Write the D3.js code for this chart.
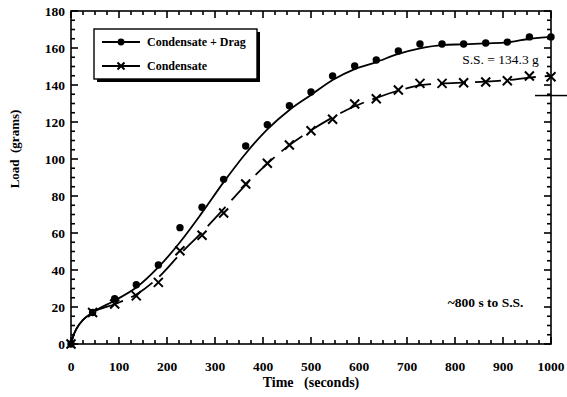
<!DOCTYPE html>
<html>
<head>
<meta charset="utf-8">
<script src="https://cdn.jsdelivr.net/npm/d3@7"></script>
<style>
  html, body { margin: 0; padding: 0; background: #fff; }
  svg { display: block; }
  text { font-family: "Liberation Serif", "Times New Roman", serif; fill: #000; }
</style>
</head>
<body>
<div id="chart"></div>
<script>
// Measured times (s)
const times = [0, 45, 91, 136, 182, 227, 273, 318, 364, 409, 455, 500, 545, 591, 636, 682, 727, 773, 818, 864, 909, 955, 1000];
// Measured loads (g)
const dragLoads = [0, 17, 24.5, 32, 42.7, 62.9, 73.9, 89, 107, 118.5, 128.8, 136.2, 144.9, 150.3, 153.5, 158.4, 162.2, 162.2, 162.2, 162.7, 163.2, 166, 166];
const condLoads = [0, 17, 21.6, 26, 33.3, 50.4, 58.8, 70.8, 86.5, 97.7, 107.6, 115.3, 121.5, 129.7, 132.6, 137.3, 140.9, 140.9, 141.2, 141.6, 142.3, 144.9, 144.5];

// Smooth fitted curves
const fitTimes = [0, 5, 12, 25, 45, 91, 136, 182, 227, 273, 318, 364, 409, 455, 500, 545, 591, 636, 682, 727, 773, 818, 864, 909, 955, 1000];
const dragFit = [0, 4.5, 8.5, 13, 17, 23.5, 30.5, 41.5, 55, 71, 87.5, 103, 116, 126.5, 134.6, 142.7, 148.6, 152.4, 156.8, 159.8, 161.6, 162, 162.5, 163, 165, 166];
const condFit = [0, 4.5, 8.5, 13, 17, 21.5, 26.8, 36, 48.5, 60.5, 73, 86, 97.5, 107.5, 115.5, 122.5, 128.5, 133, 137, 139.8, 140.8, 141.3, 141.8, 142.6, 144, 145];

const xTicks = [0, 100, 200, 300, 400, 500, 600, 700, 800, 900, 1000];
const yTicks = [0, 20, 40, 60, 80, 100, 120, 140, 160, 180];

const seriesNames = ["Condensate + Drag", "Condensate"];
const steadyState = 134.3;
const ssLabel = "S.S. = 134.3 g";
const timeLabel = "~800 s to S.S.";

const W = 567, H = 397;
const m = { left: 71, right: 16, top: 11, bottom: 53 };
const iw = W - m.left - m.right, ih = H - m.top - m.bottom;

const svg = d3.select("#chart").append("svg").attr("width", W).attr("height", H);
const g = svg.append("g").attr("transform", `translate(${m.left},${m.top})`);

const xs = d3.scaleLinear().domain([0, 1000]).range([0, iw]);
const ys = d3.scaleLinear().domain([0, 180]).range([ih, 0]);

// Frame
g.append("rect").attr("x", 0).attr("y", 0).attr("width", iw).attr("height", ih)
  .attr("fill", "none").attr("stroke", "#000").attr("stroke-width", 1.6);

// Inward-pointing ticks on all four sides (major at labels, minor between)
const xTickVals = d3.range(0, 1001, 25);
const yTickVals = d3.range(0, 181, 5);
const tickLayer = g.append("g").attr("stroke", "#000").attr("stroke-width", 1.6);
xTickVals.forEach(v => {
  const len = v % 100 === 0 ? 7 : 4;
  const px = xs(v);
  tickLayer.append("line").attr("x1", px).attr("x2", px).attr("y1", ih).attr("y2", ih - len);
  tickLayer.append("line").attr("x1", px).attr("x2", px).attr("y1", 0).attr("y2", len);
});
yTickVals.forEach(v => {
  const len = v % 20 === 0 ? 7 : 4;
  const py = ys(v);
  tickLayer.append("line").attr("x1", 0).attr("x2", len).attr("y1", py).attr("y2", py);
  tickLayer.append("line").attr("x1", iw).attr("x2", iw - len).attr("y1", py).attr("y2", py);
});

// Tick labels
g.append("g").selectAll("text").data(xTicks).join("text")
  .attr("x", d => xs(d)).attr("y", ih + 27)
  .attr("text-anchor", "middle").attr("font-size", 13.5).attr("font-weight", "bold")
  .text(d => d);
g.append("g").selectAll("text").data(yTicks).join("text")
  .attr("x", -6).attr("y", d => ys(d)).attr("dy", "0.35em")
  .attr("text-anchor", "end").attr("font-size", 13.5).attr("font-weight", "bold")
  .text(d => d);

// Axis titles
svg.append("text").attr("x", m.left + iw / 2).attr("y", 387)
  .attr("text-anchor", "middle").attr("font-size", 14).attr("font-weight", "bold")
  .attr("xml:space", "preserve").text("Time   (seconds)");
svg.append("text").attr("transform", "translate(19,149) rotate(-90)")
  .attr("text-anchor", "middle").attr("font-size", 13).attr("font-weight", "bold")
  .attr("xml:space", "preserve").text("Load  (grams)");

// Fitted curves
const line = d3.line().x(d => xs(d[0])).y(d => ys(d[1])).curve(d3.curveMonotoneX);
g.append("path").datum(d3.zip(fitTimes, dragFit)).attr("d", line)
  .attr("fill", "none").attr("stroke", "#000").attr("stroke-width", 1.8);
g.append("path").datum(d3.zip(fitTimes, condFit)).attr("d", line)
  .attr("fill", "none").attr("stroke", "#000").attr("stroke-width", 1.8)
  .attr("stroke-dasharray", "46,0,0,0,26,9,26,9,26,9,26,9,26,9,26,9,26,9,26,9,26,9,26,9,26,9,26,9,26,9,26,9,26,9,26,9");

// Markers
g.append("g").selectAll("circle").data(d3.zip(times, dragLoads)).join("circle")
  .attr("cx", d => xs(d[0])).attr("cy", d => ys(d[1])).attr("r", 3.7).attr("fill", "#000");
const cross = (sel, s) => sel.append("path")
  .attr("d", `M${-s},${-s}L${s},${s}M${-s},${s}L${s},${-s}`)
  .attr("stroke", "#000").attr("stroke-width", 2).attr("fill", "none");
g.append("g").selectAll("g").data(d3.zip(times, condLoads)).join("g")
  .attr("transform", d => `translate(${xs(d[0])},${ys(d[1])})`)
  .each(function () { cross(d3.select(this), 4.5); });

// Steady-state marker on the right edge
g.append("line").attr("x1", iw - 16).attr("x2", W - m.left)
  .attr("y1", ys(steadyState)).attr("y2", ys(steadyState))
  .attr("stroke", "#000").attr("stroke-width", 1.5);

// Annotations
g.append("text").attr("x", xs(815)).attr("y", ys(151.5)).attr("font-size", 13.5)
  .text(ssLabel);
g.append("text").attr("x", xs(785)).attr("y", ys(20)).attr("font-size", 13.5)
  .attr("font-weight", "bold").text(timeLabel);

// Legend with drop shadow
const lg = svg.append("g").attr("transform", "translate(94,29)");
const lw = 163, lh = 50;
lg.append("rect").attr("x", 3).attr("y", 3).attr("width", lw).attr("height", lh).attr("fill", "#000");
lg.append("rect").attr("x", 0).attr("y", 0).attr("width", lw).attr("height", lh)
  .attr("fill", "#fff").attr("stroke", "#000").attr("stroke-width", 1.4);
seriesNames.forEach((name, i) => {
  const yy = 13 + i * 24;
  lg.append("line").attr("x1", 8).attr("x2", 46).attr("y1", yy).attr("y2", yy)
    .attr("stroke", "#000").attr("stroke-width", 1.8);
  if (i === 0) {
    lg.append("circle").attr("cx", 27).attr("cy", yy).attr("r", 3.4).attr("fill", "#000");
  } else {
    cross(lg.append("g").attr("transform", `translate(27,${yy})`), 3.5);
  }
  lg.append("text").attr("x", 53).attr("y", yy).attr("dy", "0.35em")
    .attr("font-size", 12).attr("font-weight", "bold").text(name);
});
</script>
</body>
</html>
